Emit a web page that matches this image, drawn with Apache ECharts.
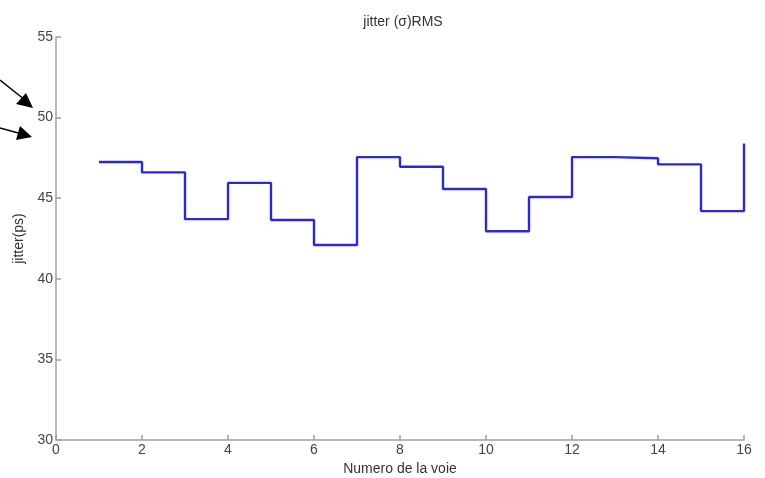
<!DOCTYPE html>
<html><head><meta charset="utf-8">
<script src="https://cdn.jsdelivr.net/npm/echarts@6/dist/echarts.min.js"></script>
<style>html,body{margin:0;padding:0;background:#fff}#c{width:765px;height:478px}</style>
</head><body><div id="c"></div>
<script>
var channels = [1,2,3,4,5,6,7,8,9,10,11,12,13,14,15,16];
var jitter = [47.25,46.6,43.7,45.95,43.65,42.1,47.55,46.95,45.57,42.95,45.07,47.55,47.48,47.1,44.2,48.4];
var xTicks = [0,2,4,6,8,10,12,14,16];
var yTicks = [30,35,40,45,50,55];

var chart = echarts.init(document.getElementById('c'), null, {renderer:'canvas'});
var font = 'Liberation Sans, Arial, sans-serif';
var axisCol = '#a0a0a0';
var labelCol = '#444';
chart.setOption({
  animation:false,
  backgroundColor:'#fff',
  title:{text:'jitter (\u03c3)RMS', left:398, top:10, textAlign:'center',
    textStyle:{fontFamily:font, fontSize:14, fontWeight:'normal', color:'#333'}},
  grid:{left:56, right:21, top:37, bottom:38, containLabel:false, outerBoundsMode:'none'},
  xAxis:{type:'value', min:xTicks[0], max:xTicks[xTicks.length-1], interval:2,
    name:'Numero de la voie', nameLocation:'middle', nameGap:20,
    nameTextStyle:{fontFamily:font, fontSize:14, color:'#333', verticalAlign:'top'},
    axisLine:{lineStyle:{color:axisCol, width:1.5}},
    axisTick:{inside:true, length:5, lineStyle:{color:axisCol, width:1.5}},
    axisLabel:{fontFamily:font, fontSize:14, color:labelCol, margin:3},
    splitLine:{show:false}},
  yAxis:{type:'value', min:yTicks[0], max:yTicks[yTicks.length-1], interval:5,
    name:'jitter(ps)', nameLocation:'middle', nameGap:23,
    nameTextStyle:{fontFamily:font, fontSize:14, color:'#333'},
    axisLine:{show:true, lineStyle:{color:axisCol, width:1.5}},
    axisTick:{show:true, inside:true, length:5, lineStyle:{color:axisCol, width:1.5}},
    axisLabel:{fontFamily:font, fontSize:14, color:labelCol, margin:3},
    splitLine:{show:false}},
  series:[{type:'line', step:'end', symbol:'none',
    data: channels.map(function(c,i){return [c, jitter[i]];}),
    lineStyle:{color:'#2a2ad4', width:2.4}}],
  graphic:[
    {type:'line', shape:{x1:0,y1:80,x2:25,y2:100}, style:{stroke:'#000', lineWidth:1.5}},
    {type:'polygon', shape:{points:[[33,108],[16,104],[26,93]]}, style:{fill:'#000'}},
    {type:'line', shape:{x1:0,y1:128,x2:22,y2:134}, style:{stroke:'#000', lineWidth:1.5}},
    {type:'polygon', shape:{points:[[32,137],[16,140],[20,126]]}, style:{fill:'#000'}}
  ]
});
</script></body></html>
